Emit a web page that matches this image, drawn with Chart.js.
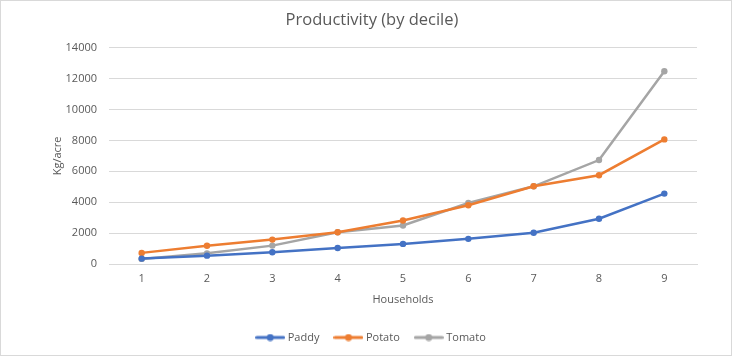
<!DOCTYPE html>
<html><head><meta charset="utf-8">
<script src="https://cdn.jsdelivr.net/npm/chart.js@4"></script>
<style>
html,body{margin:0;padding:0;background:#fff;}
#wrap{position:absolute;left:0;top:0;width:730px;height:354px;border:1px solid #d9d9d9;}
</style></head><body>
<div id="wrap"><canvas id="c" width="730" height="354"></canvas></div>
<script>
const categories = ["1","2","3","4","5","6","7","8","9"];
const paddy = [350, 540, 760, 1040, 1300, 1630, 2020, 2930, 4560];
const potato = [720, 1180, 1580, 2060, 2820, 3800, 5030, 5750, 8070];
const tomato = [330, 690, 1190, 2060, 2490, 3950, 5030, 6730, 12480];
const seriesNames = ["Paddy", "Potato", "Tomato"];
const colors = ["#4472C4", "#ED7D31", "#A5A5A5"];

function legendIcon(color){
  const cv = document.createElement('canvas');
  cv.width = 30; cv.height = 8;
  const g = cv.getContext('2d');
  g.strokeStyle = color; g.lineWidth = 3; g.lineCap='round';
  g.beginPath(); g.moveTo(1.5,4); g.lineTo(28.5,4); g.stroke();
  g.fillStyle = color; g.beginPath(); g.arc(15,4,3.5,0,Math.PI*2); g.fill();
  return cv;
}
const font = "'Open Sans', 'Noto Sans', sans-serif";
const grey = "#595959";
const ds = [paddy, potato, tomato].map((d,i)=>({
  label: seriesNames[i], data: d, borderColor: colors[i], backgroundColor: colors[i],
  borderWidth: 2.5, pointRadius: 3.2, pointBorderWidth: 0, pointBackgroundColor: colors[i],
  tension: 0, pointStyle: 'circle'
}));
const icons = colors.map(legendIcon);
new Chart(document.getElementById('c'), {
  type: 'line',
  data: { labels: categories, datasets: ds },
  options: {
    responsive: false, animation: false, devicePixelRatio: 1,
    layout: { padding: { left: 46, right: 34, top: 5, bottom: 2 } },
    plugins: {
      title: { display: true, text: "Productivity (by decile)", color: grey,
        font: { family: font, size: 16.5, weight: 'normal' }, padding: { top: 4, bottom: 18 } },
      legend: { position: 'bottom', labels: {
        color: grey, font: { family: font, size: 11 }, usePointStyle: true,
        boxWidth: 24, boxHeight: 8, pointStyleWidth: 24, padding: 17,
        generateLabels: (chart)=> chart.data.datasets.map((d,i)=>({
          text: d.label, fillStyle: colors[i], strokeStyle: colors[i], lineWidth: 0,
          pointStyle: icons[i], datasetIndex: i, hidden: false, fontColor: grey
        }))
      } },
      tooltip: { enabled: false }
    },
    scales: {
      x: {
        offset: true,
        grid: { display: false, drawTicks: false },
        border: { display: true, color: "#d9d9d9" },
        ticks: { color: grey, font: { family: font, size: 11, lineHeight: 0.8 }, padding: 10 },
        title: { display: true, text: "Households", color: grey, font: { family: font, size: 11 }, padding: { top: 0, bottom: 9 } }
      },
      y: {
        min: 0, max: 14000,
        afterFit: (s)=>{ s.width = 62; },
        grid: { color: "#d9d9d9", drawTicks: false },
        border: { display: false },
        ticks: { stepSize: 2000, color: grey, font: { family: font, size: 11 }, padding: 12,
          callback: (v)=> String(v) },
        title: { display: true, text: "Kg/acre", color: grey, font: { family: font, size: 11 }, padding: { top: 4, bottom: 2 } }
      }
    }
  }
});
</script></body></html>
